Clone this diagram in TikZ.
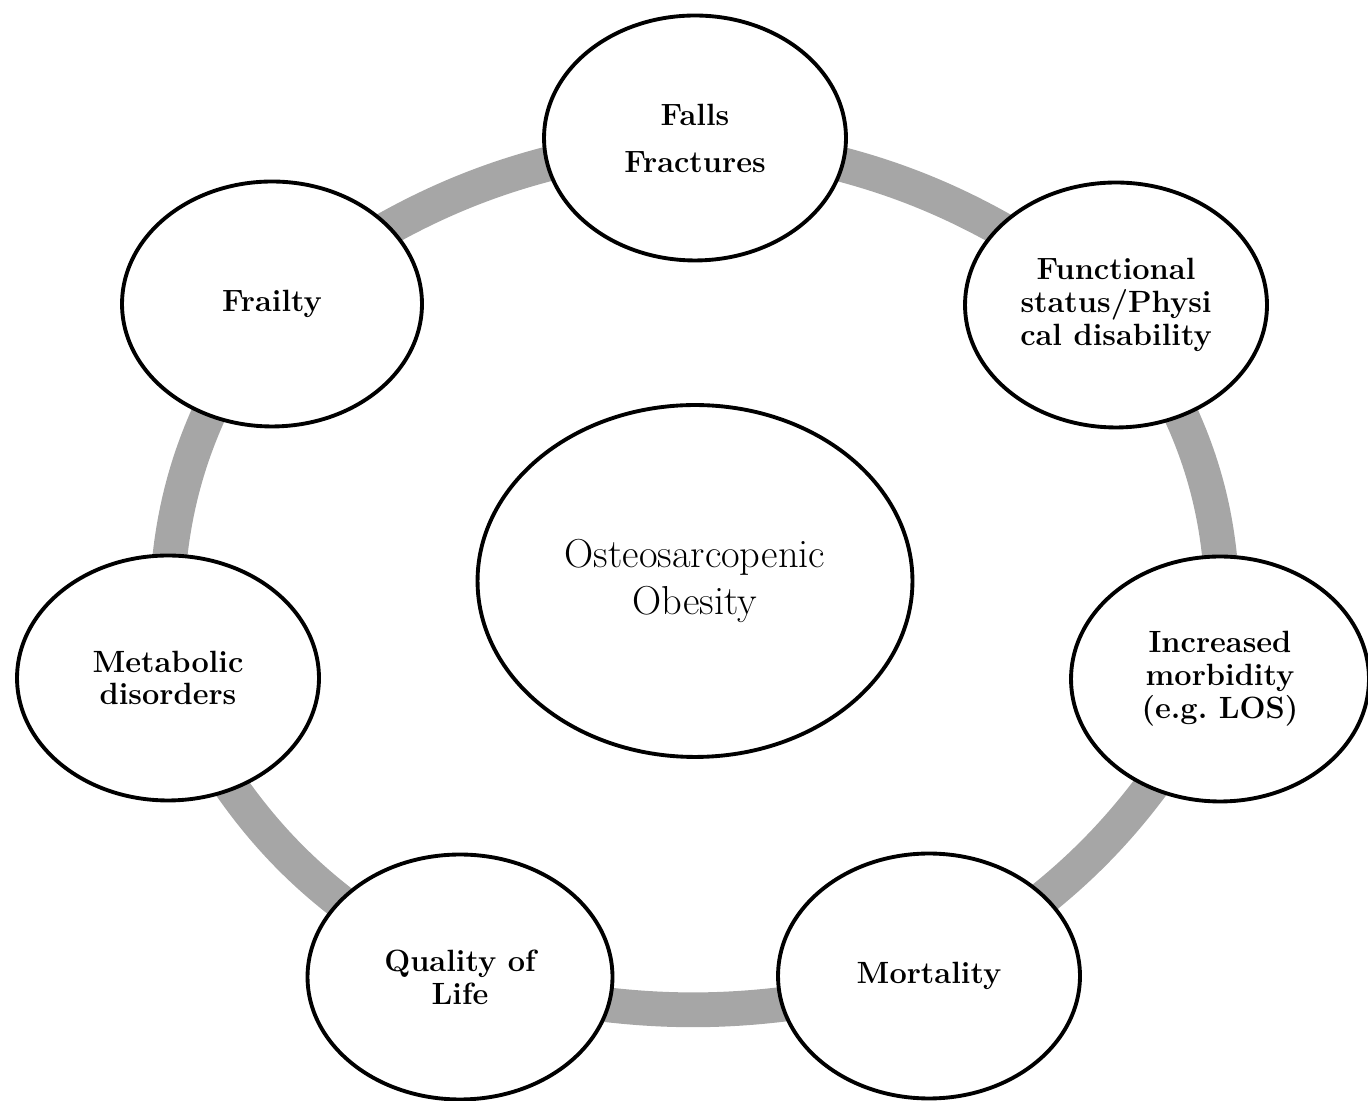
\documentclass[tikz,border=0pt]{standalone}
\usepackage{tikz}
\usetikzlibrary{shapes.geometric,backgrounds}

\begin{document}
\begin{tikzpicture}[x=0.02cm, y=0.02cm,
    outcome/.style={draw, ellipse, line width=2.2pt, fill=white, inner sep=0pt,
      minimum width=6.04cm, minimum height=4.9cm, align=center,
      font=\fontsize{17.5}{18.7}\selectfont\bfseries},
    core/.style={draw, ellipse, line width=2.2pt, fill=white, inner sep=0pt,
      minimum width=8.7cm, minimum height=7.04cm, align=center,
      font=\fontsize{23}{27.2}\selectfont},
    ring/.style={line width=19.8pt, color=gray!70}]
      \useasboundingbox (0,0) rectangle (1368,1101);

      \node[core] (oso) at (695,520) {Osteosarcopenic\\Obesity};

      \node[outcome] (falls) at (695,963) {Falls\\[8pt]Fractures};
      \node[outcome] (func) at (1116,796) {Functional\\status/Physi\\cal disability};
      \node[outcome, minimum width=5.96cm] (morb) at (1220,422) {Increased\\morbidity\\(e.g.\ LOS)};
      \node[outcome] (mort) at (929,125) {Mortality};
      \node[outcome, minimum width=6.1cm] (qol) at (460,124) {Quality of\\Life};
      \node[outcome] (meta) at (168,423) {Metabolic\\disorders};
      \node[outcome, minimum width=6cm] (frail) at (272,797) {Frailty};

      % grey ring behind the outcomes
      \begin{scope}[on background layer]
        \draw[ring] (falls.center) to [bend left = 15] (func.center);
        \draw[ring] (func.center) to [bend left = 20] (morb.center);
        \draw[ring] (morb.center) to [bend left = 15] (mort.center);
        \draw[ring] (mort.center) to [bend left = 14] (qol.center);
        \draw[ring] (qol.center) to [bend left = 18] (meta.center);
        \draw[ring] (meta.center) to [bend left = 19] (frail.center);
        \draw[ring] (frail.center) to [bend left = 15] (falls.center);
      \end{scope}
    \end{tikzpicture}
\end{document}
